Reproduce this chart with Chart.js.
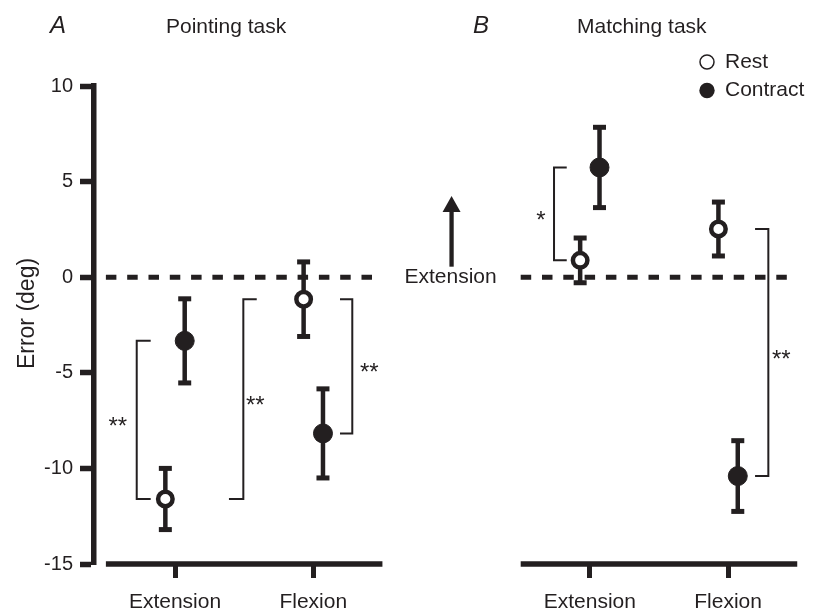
<!DOCTYPE html>
<html>
<head>
<meta charset="utf-8">
<title>Pointing and matching task errors</title>
<script src="https://cdn.jsdelivr.net/npm/chart.js@4.4.0/dist/chart.umd.min.js"></script>
<style>
  html, body { margin: 0; padding: 0; background: #fff; }
  #wrap { position: relative; width: 819px; height: 611px; }
</style>
</head>
<body>
<div id="wrap"><canvas id="errorChart" width="819" height="611"></canvas></div>
<script>
const INK = '#231f20';
const FONT = '"Liberation Sans", Arial, Helvetica, sans-serif';

// --- data (error in deg, order = [Extension, Flexion]) ---
const panelTitles = ['Pointing task', 'Matching task'];
const panelLetters = ['A', 'B'];
const categories = ['Extension', 'Flexion'];
const conditions = ['Rest', 'Contract'];

const pointingRest = [-11.6, -1.15];
const pointingRestErr = [1.6, 1.95];
const pointingContract = [-3.33, -8.17];
const pointingContractErr = [2.2, 2.33];

const matchingRest = [0.88, 2.52];
const matchingRestErr = [1.17, 1.41];
const matchingContract = [5.74, -10.4];
const matchingContractErr = [2.1, 1.85];

const yTickStep = 5;
const yMin = -15;
const yMax = 10;

// significance brackets: panel, the two points joined [condition, category], label
const sigPairs = [
    { panel: 0, a: ['Contract', 0], b: ['Rest', 0], label: '**' },
    { panel: 0, a: ['Rest', 1], b: ['Rest', 0], label: '**' },
    { panel: 0, a: ['Rest', 1], b: ['Contract', 1], label: '**' },
    { panel: 1, a: ['Contract', 0], b: ['Rest', 0], label: '*' },
    { panel: 1, a: ['Rest', 1], b: ['Contract', 1], label: '**' }
];

// --- layout ---
const panelBase = [1, 4];              // x position of "Extension" in each panel
const condOffset = { Rest: -0.07, Contract: 0.07 };
// bracket geometry in category units relative to panel base
const bracketLayout = [
    { x: -0.277, armA: -0.176, armB: -0.176, labelDx: -19 },
    { x: 0.494, armA: 0.591, armB: 0.39, labelDx: 12 },
    { x: 1.282, armA: 1.193, armB: 1.193, labelDx: 17 },
    { x: -0.259, armA: -0.167, armB: -0.167, labelDx: -13 },
    { x: 1.291, armA: 1.195, armB: 1.195, labelDx: 13 }
];

const means = { Rest: [pointingRest, matchingRest], Contract: [pointingContract, matchingContract] };
const errs = { Rest: [pointingRestErr, matchingRestErr], Contract: [pointingContractErr, matchingContractErr] };

function buildPoints(cond) {
    const pts = [];
    panelTitles.forEach((_, p) => {
        categories.forEach((_, c) => {
            pts.push({ x: panelBase[p] + c + condOffset[cond], y: means[cond][p][c], err: errs[cond][p][c] });
        });
    });
    return pts;
}

const xTickValues = [];
const xTickLabels = [];
panelBase.forEach(base => categories.forEach((name, c) => {
    xTickValues.push(base + c);
    xTickLabels.push(name);
}));

function line(ctx, x1, y1, x2, y2) {
    ctx.beginPath();
    ctx.moveTo(x1, y1);
    ctx.lineTo(x2, y2);
    ctx.stroke();
}

const panelDecor = {
    id: 'panelDecor',
    beforeDatasetsDraw(chart) {
        const { ctx, scales: { x, y } } = chart;
        ctx.save();
        ctx.strokeStyle = INK;
        ctx.fillStyle = INK;

        panelBase.forEach(base => {
            // dashed zero line
            ctx.setLineDash([10.5, 10.8]);
            ctx.lineWidth = 5;
            line(ctx, x.getPixelForValue(base - 0.5), y.getPixelForValue(0), x.getPixelForValue(base + 1.43), y.getPixelForValue(0));
            ctx.setLineDash([]);
            // x axis segment for this panel
            ctx.lineWidth = 5.5;
            line(ctx, x.getPixelForValue(base - 0.5), y.bottom, x.getPixelForValue(base + 1.5), y.bottom);
        });

        // significance brackets
        ctx.lineWidth = 2;
        ctx.lineJoin = 'miter';
        ctx.font = '24px ' + FONT;
        ctx.textAlign = 'center';
        ctx.textBaseline = 'alphabetic';
        sigPairs.forEach((s, i) => {
            const g = bracketLayout[i];
            const base = panelBase[s.panel];
            const ya = y.getPixelForValue(means[s.a[0]][s.panel][s.a[1]]);
            const yb = y.getPixelForValue(means[s.b[0]][s.panel][s.b[1]]);
            const xv = x.getPixelForValue(base + g.x);
            ctx.beginPath();
            ctx.moveTo(x.getPixelForValue(base + g.armA), ya);
            ctx.lineTo(xv, ya);
            ctx.lineTo(xv, yb);
            ctx.lineTo(x.getPixelForValue(base + g.armB), yb);
            ctx.stroke();
            const fs = 24;
            ctx.fillText(s.label, xv + g.labelDx, (ya + yb) / 2 + 0.585 * fs);
        });

        // error bars
        chart.data.datasets.forEach((ds, di) => {
            const meta = chart.getDatasetMeta(di);
            meta.data.forEach((pt, i) => {
                const d = ds.data[i];
                const top = y.getPixelForValue(d.y + d.err);
                const bot = y.getPixelForValue(d.y - d.err);
                ctx.lineWidth = 4.5;
                line(ctx, pt.x, top, pt.x, bot);
                ctx.lineWidth = 5;
                line(ctx, pt.x - 6.5, top, pt.x + 6.5, top);
                line(ctx, pt.x - 6.5, bot, pt.x + 6.5, bot);
            });
        });
        ctx.restore();
    },
    afterDraw(chart) {
        const { ctx, scales: { x, y } } = chart;
        ctx.save();
        ctx.fillStyle = INK;
        ctx.strokeStyle = INK;
        ctx.textBaseline = 'alphabetic';

        // panel letters and titles
        const letterX = [50, 473];
        const titleX = [166, 577];
        panelTitles.forEach((t, p) => {
            ctx.textAlign = 'left';
            ctx.font = 'italic 24px ' + FONT;
            ctx.fillText(panelLetters[p], letterX[p], 33);
            ctx.font = '21px ' + FONT;
            ctx.fillText(t, titleX[p], 33);
        });

        // y axis title
        ctx.save();
        ctx.translate(27.5, 313.5);
        ctx.rotate(-Math.PI / 2);
        ctx.textAlign = 'center';
        ctx.textBaseline = 'middle';
        ctx.font = '23px ' + FONT;
        ctx.fillText('Error (deg)', 0, 0);
        ctx.restore();

        // arrow + "Extension" direction label between panels
        const ax = x.getPixelForValue(3);
        const yFrom = y.getPixelForValue(0.55);
        const tip = y.getPixelForValue(4.25);
        ctx.lineWidth = 4.3;
        line(ctx, ax, yFrom, ax, tip + 12);
        ctx.beginPath();
        ctx.moveTo(ax, tip);
        ctx.lineTo(ax - 9, tip + 16);
        ctx.lineTo(ax + 9, tip + 16);
        ctx.closePath();
        ctx.fill();
        ctx.font = '21px ' + FONT;
        ctx.textAlign = 'center';
        ctx.textBaseline = 'middle';
        ctx.fillText('Extension', ax - 1, y.getPixelForValue(0));

        // legend
        const legY = [62, 90.5];
        conditions.forEach((c, i) => {
            ctx.beginPath();
            if (c === 'Rest') {
                ctx.arc(707, legY[i], 7, 0, Math.PI * 2);
                ctx.fillStyle = '#fff';
                ctx.fill();
                ctx.lineWidth = 1.5;
                ctx.stroke();
            } else {
                ctx.arc(707, legY[i], 7.7, 0, Math.PI * 2);
                ctx.fillStyle = INK;
                ctx.fill();
            }
            ctx.fillStyle = INK;
            ctx.font = '21px ' + FONT;
            ctx.textAlign = 'left';
            ctx.textBaseline = 'middle';
            ctx.fillText(c, 725, legY[i]);
        });
        ctx.restore();
    }
};

const ctx = document.getElementById('errorChart').getContext('2d');
new Chart(ctx, {
    type: 'scatter',
    data: {
        datasets: [
            {
                label: 'Rest',
                data: buildPoints('Rest'),
                pointRadius: 7.25,
                pointHoverRadius: 7.25,
                pointBorderWidth: 4.5,
                pointBackgroundColor: '#fff',
                pointBorderColor: INK
            },
            {
                label: 'Contract',
                data: buildPoints('Contract'),
                pointRadius: 9.5,
                pointHoverRadius: 9.5,
                pointBorderWidth: 1,
                pointBackgroundColor: INK,
                pointBorderColor: INK
            }
        ]
    },
    options: {
        responsive: false,
        animation: false,
        events: [],
        layout: { padding: { top: 86, right: 19, left: 0, bottom: 0 } },
        plugins: {
            legend: { display: false },
            tooltip: { enabled: false },
            title: { display: false }
        },
        scales: {
            x: {
                type: 'linear',
                min: 0.414,
                max: 5.52,
                bounds: 'data',
                afterBuildTicks: s => { s.ticks = xTickValues.map(v => ({ value: v })); },
                afterFit: s => { s.height = 47; },
                grid: { drawOnChartArea: false, drawTicks: true, tickLength: 14, tickWidth: 5, tickColor: INK },
                border: { display: false },
                ticks: {
                    callback: (v, i) => xTickLabels[i],
                    font: { family: FONT, size: 21 },
                    color: INK,
                    padding: 12,
                    maxRotation: 0,
                    autoSkip: false
                }
            },
            y: {
                min: yMin,
                max: yMax,
                afterFit: s => { s.width = 94; },
                grid: { drawOnChartArea: false, drawTicks: true, tickLength: 14, tickWidth: 5.5, tickColor: INK },
                border: { display: true, width: 5.5, color: INK },
                ticks: {
                    stepSize: yTickStep,
                    font: { family: FONT, size: 20 },
                    color: INK,
                    padding: 7
                }
            }
        }
    },
    plugins: [panelDecor]
});
</script>
</body>
</html>
